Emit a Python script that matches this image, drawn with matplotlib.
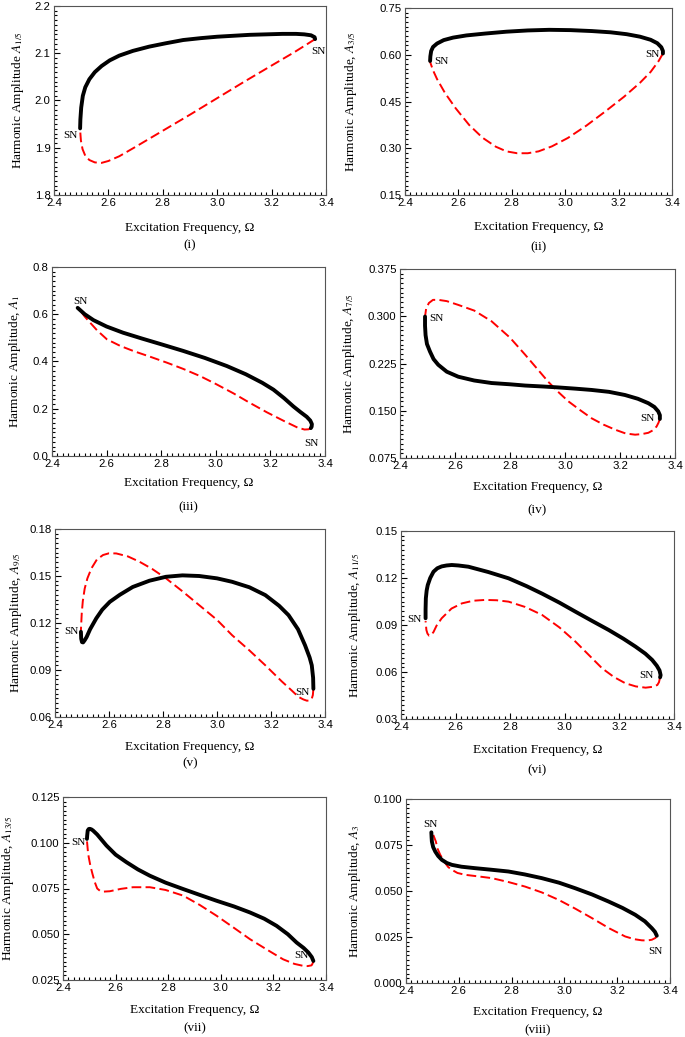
import matplotlib
matplotlib.use("Agg")
import matplotlib.pyplot as plt
from matplotlib.ticker import AutoMinorLocator, FormatStrFormatter, MultipleLocator

plt.rcParams['mathtext.fontset'] = 'stix'

W, H = 685, 1037

# ---- data: (Omega, amplitude) along stable / unstable branches ----
# (i) A_1/5
om_s1 = [2.496, 2.497, 2.500, 2.506, 2.515, 2.530, 2.550, 2.575, 2.605, 2.640, 2.690, 2.750, 2.810,
         2.875, 2.940, 3.000, 3.060, 3.120, 3.180, 3.240, 3.290, 3.320, 3.345, 3.358, 3.360]
a_s1 = [1.941, 1.960, 1.985, 2.010, 2.028, 2.045, 2.060, 2.073, 2.085, 2.095, 2.105, 2.114, 2.121,
        2.128, 2.132, 2.135, 2.137, 2.139, 2.140, 2.141, 2.141, 2.140, 2.138, 2.134, 2.130]
om_u1 = [3.360, 3.330, 3.280, 3.200, 3.100, 3.000, 2.900, 2.800, 2.700, 2.640, 2.600, 2.575, 2.550,
         2.530, 2.515, 2.505, 2.499, 2.496]
a_u1 = [2.130, 2.119, 2.101, 2.074, 2.040, 2.005, 1.970, 1.936, 1.902, 1.882, 1.872, 1.868, 1.869,
        1.874, 1.883, 1.897, 1.915, 1.938]

# (ii) A_3/5
om_s2 = [2.494, 2.495, 2.498, 2.505, 2.520, 2.545, 2.580, 2.630, 2.700, 2.780, 2.860, 2.940, 3.020,
         3.100, 3.170, 3.230, 3.280, 3.320, 3.345, 3.360, 3.366, 3.366]
a_s2 = [0.580, 0.595, 0.612, 0.625, 0.636, 0.647, 0.655, 0.662, 0.668, 0.674, 0.678, 0.680, 0.679,
        0.676, 0.672, 0.666, 0.658, 0.648, 0.637, 0.624, 0.612, 0.604]
om_u2 = [3.366, 3.350, 3.320, 3.280, 3.220, 3.150, 3.080, 3.010, 2.950, 2.900, 2.860, 2.820, 2.780,
         2.740, 2.690, 2.640, 2.590, 2.550, 2.520, 2.505, 2.494]
a_u2 = [0.604, 0.580, 0.545, 0.510, 0.465, 0.418, 0.373, 0.333, 0.306, 0.290, 0.284, 0.284, 0.290,
        0.305, 0.334, 0.375, 0.428, 0.477, 0.522, 0.550, 0.577]

# (iii) A_1
om_s3 = [2.494, 2.520, 2.552, 2.600, 2.660, 2.730, 2.800, 2.880, 2.960, 3.040, 3.110, 3.170, 3.211,
         3.250, 3.284, 3.310, 3.333, 3.346, 3.352, 3.351, 3.348]
a_s3 = [0.627, 0.600, 0.575, 0.548, 0.522, 0.497, 0.473, 0.445, 0.415, 0.381, 0.346, 0.310, 0.281,
        0.245, 0.210, 0.186, 0.166, 0.150, 0.135, 0.124, 0.118]
om_u3 = [3.348, 3.340, 3.325, 3.300, 3.250, 3.187, 3.120, 3.065, 3.000, 2.943, 2.880, 2.821, 2.760,
         2.699, 2.650, 2.601, 2.565, 2.540, 2.520, 2.504, 2.494]
a_u3 = [0.118, 0.113, 0.112, 0.120, 0.148, 0.185, 0.228, 0.265, 0.305, 0.338, 0.369, 0.395, 0.420,
        0.444, 0.466, 0.494, 0.532, 0.564, 0.590, 0.615, 0.627]

# (iv) A_7/5
om_s4 = [2.491, 2.491, 2.493, 2.498, 2.509, 2.522, 2.539, 2.570, 2.612, 2.670, 2.733, 2.800, 2.855,
         2.920, 2.976, 3.040, 3.097, 3.160, 3.218, 3.265, 3.303, 3.325, 3.339, 3.345, 3.345]
a_s4 = [0.2995, 0.285, 0.270, 0.256, 0.244, 0.232, 0.223, 0.212, 0.204, 0.198, 0.194, 0.192, 0.190,
        0.1885, 0.187, 0.185, 0.183, 0.180, 0.175, 0.169, 0.162, 0.156, 0.149, 0.143, 0.137]
om_u4 = [3.345, 3.340, 3.333, 3.320, 3.303, 3.280, 3.255, 3.220, 3.182, 3.140, 3.097, 3.055, 3.012,
         2.975, 2.939, 2.900, 2.855, 2.800, 2.733, 2.670, 2.612, 2.570, 2.540, 2.520, 2.505, 2.495, 2.491]
a_u4 = [0.137, 0.131, 0.125, 0.119, 0.115, 0.113, 0.112, 0.114, 0.120, 0.128, 0.138, 0.151, 0.165,
        0.180, 0.196, 0.216, 0.239, 0.266, 0.292, 0.309, 0.318, 0.324, 0.326, 0.326, 0.321, 0.312, 0.2995]

# (v) A_9/5
om_s5 = [2.496, 2.497, 2.500, 2.504, 2.510, 2.517, 2.530, 2.553, 2.575, 2.603, 2.640, 2.688, 2.750,
         2.811, 2.872, 2.934, 3.000, 3.056, 3.120, 3.179, 3.230, 3.265, 3.300, 3.326, 3.343, 3.351,
         3.356, 3.357]
a_s5 = [0.1144, 0.110, 0.1078, 0.1076, 0.109, 0.111, 0.116, 0.123, 0.1285, 0.1335, 0.138, 0.143, 0.147,
        0.1495, 0.1504, 0.150, 0.1485, 0.1463, 0.1428, 0.1378, 0.131, 0.125, 0.116, 0.1058, 0.098, 0.093,
        0.085, 0.078]
om_u5 = [3.357, 3.355, 3.351, 3.343, 3.333, 3.320, 3.302, 3.275, 3.240, 3.179, 3.120, 3.056, 3.000,
         2.934, 2.870, 2.811, 2.760, 2.713, 2.670, 2.627, 2.600, 2.578, 2.555, 2.535, 2.520, 2.510,
         2.503, 2.499, 2.496]
a_u5 = [0.078, 0.074, 0.0717, 0.0706, 0.0704, 0.0712, 0.0728, 0.0772, 0.0827, 0.093, 0.1025, 0.1122, 0.122,
        0.1314, 0.1405, 0.1485, 0.1545, 0.1591, 0.1625, 0.1644, 0.1645, 0.1634, 0.1605, 0.1549, 0.1485, 0.142,
        0.134, 0.126, 0.1155]

# (vi) A_11/5
om_s6 = [2.490, 2.490, 2.491, 2.494, 2.498, 2.507, 2.519, 2.533, 2.549, 2.567, 2.586, 2.610, 2.647,
         2.720, 2.794, 2.860, 2.917, 2.980, 3.039, 3.100, 3.161, 3.215, 3.259, 3.295, 3.320, 3.337,
         3.347, 3.351, 3.349]
a_s6 = [0.0943, 0.100, 0.107, 0.112, 0.1155, 0.120, 0.124, 0.1262, 0.1274, 0.128, 0.1283, 0.128, 0.1272,
        0.1238, 0.1198, 0.1148, 0.110, 0.1043, 0.0985, 0.0926, 0.0868, 0.0812, 0.0762, 0.0717, 0.0677, 0.064,
        0.061, 0.058, 0.0566]
om_u6 = [3.349, 3.345, 3.339, 3.320, 3.296, 3.260, 3.222, 3.180, 3.137, 3.090, 3.039, 2.980, 2.917,
         2.855, 2.794, 2.750, 2.708, 2.665, 2.623, 2.585, 2.549, 2.530, 2.519, 2.510, 2.503, 2.497,
         2.493, 2.490]
a_u6 = [0.0566, 0.0535, 0.0517, 0.0505, 0.050, 0.0508, 0.0528, 0.0568, 0.0623, 0.0705, 0.0794, 0.0885, 0.0964,
        0.1015, 0.1049, 0.1058, 0.106, 0.1055, 0.1038, 0.1005, 0.0943, 0.0895, 0.0855, 0.0835, 0.0832, 0.0845,
        0.0868, 0.0925]

# (vii) A_13/5
om_s7 = [2.491, 2.492, 2.494, 2.498, 2.502, 2.508, 2.514, 2.530, 2.565, 2.600, 2.641, 2.685, 2.730,
         2.790, 2.857, 2.920, 2.984, 3.050, 3.111, 3.165, 3.212, 3.255, 3.288, 3.315, 3.333, 3.346, 3.352]
a_s7 = [0.1021, 0.104, 0.1067, 0.1075, 0.1076, 0.1073, 0.1067, 0.1045, 0.0985, 0.0935, 0.0894, 0.0854, 0.082,
        0.0782, 0.0747, 0.0715, 0.0683, 0.0652, 0.0619, 0.0585, 0.0546, 0.050, 0.0455, 0.0425, 0.040, 0.0375, 0.0354]
om_u7 = [3.352, 3.349, 3.345, 3.330, 3.314, 3.280, 3.237, 3.180, 3.111, 3.050, 2.984, 2.920, 2.857,
         2.790, 2.730, 2.666, 2.620, 2.578, 2.555, 2.540, 2.530, 2.521, 2.512, 2.504, 2.498, 2.495, 2.491]
a_u7 = [0.0354, 0.034, 0.033, 0.0326, 0.0327, 0.0338, 0.0363, 0.0412, 0.0473, 0.0535, 0.0601, 0.066, 0.0711,
        0.0742, 0.0757, 0.0757, 0.0748, 0.0735, 0.0733, 0.0738, 0.075, 0.0784, 0.083, 0.0875, 0.092, 0.0948, 0.1012]

# (viii) A_3
om_s8 = [2.496, 2.497, 2.498, 2.503, 2.511, 2.522, 2.536, 2.555, 2.574, 2.610, 2.662, 2.720, 2.788,
         2.850, 2.914, 2.980, 3.041, 3.105, 3.167, 3.220, 3.268, 3.305, 3.331, 3.343, 3.350]
a_s8 = [0.0819, 0.079, 0.0769, 0.0738, 0.0714, 0.069, 0.0669, 0.0652, 0.0642, 0.0632, 0.0624, 0.0616, 0.0606,
        0.059, 0.057, 0.0545, 0.0515, 0.0481, 0.0443, 0.0408, 0.0371, 0.0335, 0.0298, 0.0278, 0.0257]
om_u8 = [3.350, 3.345, 3.331, 3.313, 3.293, 3.265, 3.230, 3.170, 3.104, 3.040, 2.978, 2.915, 2.851,
         2.790, 2.725, 2.670, 2.624, 2.595, 2.574, 2.560, 2.549, 2.540, 2.530, 2.520, 2.513, 2.506, 2.501, 2.496]
a_u8 = [0.0257, 0.0245, 0.0235, 0.0231, 0.0232, 0.0238, 0.0253, 0.0297, 0.0353, 0.0405, 0.0452, 0.0492, 0.0524,
        0.0548, 0.057, 0.058, 0.0588, 0.0598, 0.0615, 0.063, 0.0651, 0.0672, 0.0696, 0.0728, 0.0769, 0.0795, 0.0814, 0.0819]

ylabels = [r"Harmonic Amplitude $A_{1/5}$", r"Harmonic Amplitude, $A_{3/5}$",
           r"Harmonic Amplitude, $A_{1}$", r"Harmonic Amplitude, $A_{7/5}$",
           r"Harmonic Amplitude, $A_{9/5}$", r"Harmonic Amplitude, $A_{11/5}$",
           r"Harmonic Amplitude, $A_{13/5}$", r"Harmonic Amplitude, $A_{3}$"]
tags = ["(i)", "(ii)", "(iii)", "(iv)", "(v)", "(vi)", "(vii)", "(viii)"]
ylims = [(1.8, 2.2), (0.15, 0.75), (0.0, 0.8), (0.075, 0.375),
         (0.06, 0.18), (0.03, 0.15), (0.025, 0.125), (0.0, 0.100)]
ysteps = [0.1, 0.15, 0.2, 0.075, 0.03, 0.03, 0.025, 0.025]
yfmts = ['%.1f', '%.2f', '%.1f', '%.3f', '%.2f', '%.2f', '%.3f', '%.3f']
sn_pos = [[(2.459, 1.925), (3.372, 2.103)], [(2.538, 0.578), (3.325, 0.600)],
          [(2.504, 0.654), (3.351, 0.054)], [(2.533, 0.297), (3.300, 0.138)],
          [(2.461, 0.1148), (3.317, 0.0756)], [(2.451, 0.0938), (3.298, 0.058)],
          [(2.460, 0.1003), (3.307, 0.0382)], [(2.492, 0.0863), (3.343, 0.0171)]]

stable = [(om_s1, a_s1), (om_s2, a_s2), (om_s3, a_s3), (om_s4, a_s4),
          (om_s5, a_s5), (om_s6, a_s6), (om_s7, a_s7), (om_s8, a_s8)]
unstable = [(om_u1, a_u1), (om_u2, a_u2), (om_u3, a_u3), (om_u4, a_u4),
            (om_u5, a_u5), (om_u6, a_u6), (om_u7, a_u7), (om_u8, a_u8)]

# pixel boxes (left, top, right, bottom), label rows, ylabel x
boxes = [(54, 6, 326, 195), (405, 8, 672, 195), (52, 267, 325, 456), (400, 269, 675, 458),
         (55, 529, 325, 717), (401, 531, 674, 719), (63, 797, 326, 980), (406, 799, 670, 983)]
xlab_y = [228, 227, 483, 487, 747, 750, 1010, 1012]
tag_y = [245, 247, 507, 510, 763, 770, 1028, 1030]
ylab_x = [18, 351, 15, 349, 16, 355, 8, 355]

fig = plt.figure(figsize=(W / 100, H / 100), dpi=100)
serif = 'Liberation Serif'
sans = 'Liberation Sans'

for i in range(8):
    l, t, r, b = boxes[i]
    ax = fig.add_axes([l / W, 1 - b / H, (r - l) / W, (b - t) / H])
    ax.plot(*unstable[i], color='#ff0000', lw=1.4, dashes=(5, 2.2), zorder=2)
    ax.plot(*stable[i], color='black', lw=2.8, solid_capstyle='round', solid_joinstyle='round', zorder=3)
    ax.set_xlim(2.4, 3.4)
    ax.set_ylim(*ylims[i])
    ax.xaxis.set_major_locator(MultipleLocator(0.2))
    ax.yaxis.set_major_locator(MultipleLocator(ysteps[i]))
    ax.xaxis.set_minor_locator(AutoMinorLocator(10))
    ax.yaxis.set_minor_locator(AutoMinorLocator(10))
    ax.xaxis.set_major_formatter(FormatStrFormatter('%.1f'))
    ax.yaxis.set_major_formatter(FormatStrFormatter(yfmts[i]))
    ax.tick_params(which='both', direction='in', top=False, right=False, width=0.8, color='black')
    ax.tick_params(which='major', length=4.5, labelsize=8.2, pad=2.5)
    ax.tick_params(which='minor', length=2.5)
    for lab in ax.get_xticklabels() + ax.get_yticklabels():
        lab.set_fontfamily(sans)
    for sp in ax.spines.values():
        sp.set_color('#555555')
        sp.set_linewidth(0.8)
    for (sx, sy) in sn_pos[i]:
        ax.text(sx, sy, "SN", fontfamily=serif, fontsize=8, ha='center', va='center', zorder=4)
    cx = (l + r) / 2 / W
    fig.text(cx, 1 - xlab_y[i] / H, "Excitation Frequency, Ω", fontfamily=serif,
             fontsize=9.5, ha='center', va='center')
    fig.text(cx, 1 - tag_y[i] / H, tags[i], fontfamily=serif, fontsize=9.5, ha='center', va='center')
    fig.text(ylab_x[i] / W, 1 - (t + b) / 2 / H, ylabels[i], fontfamily=serif, fontsize=9.5,
             rotation=90, ha='center', va='center')

fig.savefig("out.png", dpi=100)
